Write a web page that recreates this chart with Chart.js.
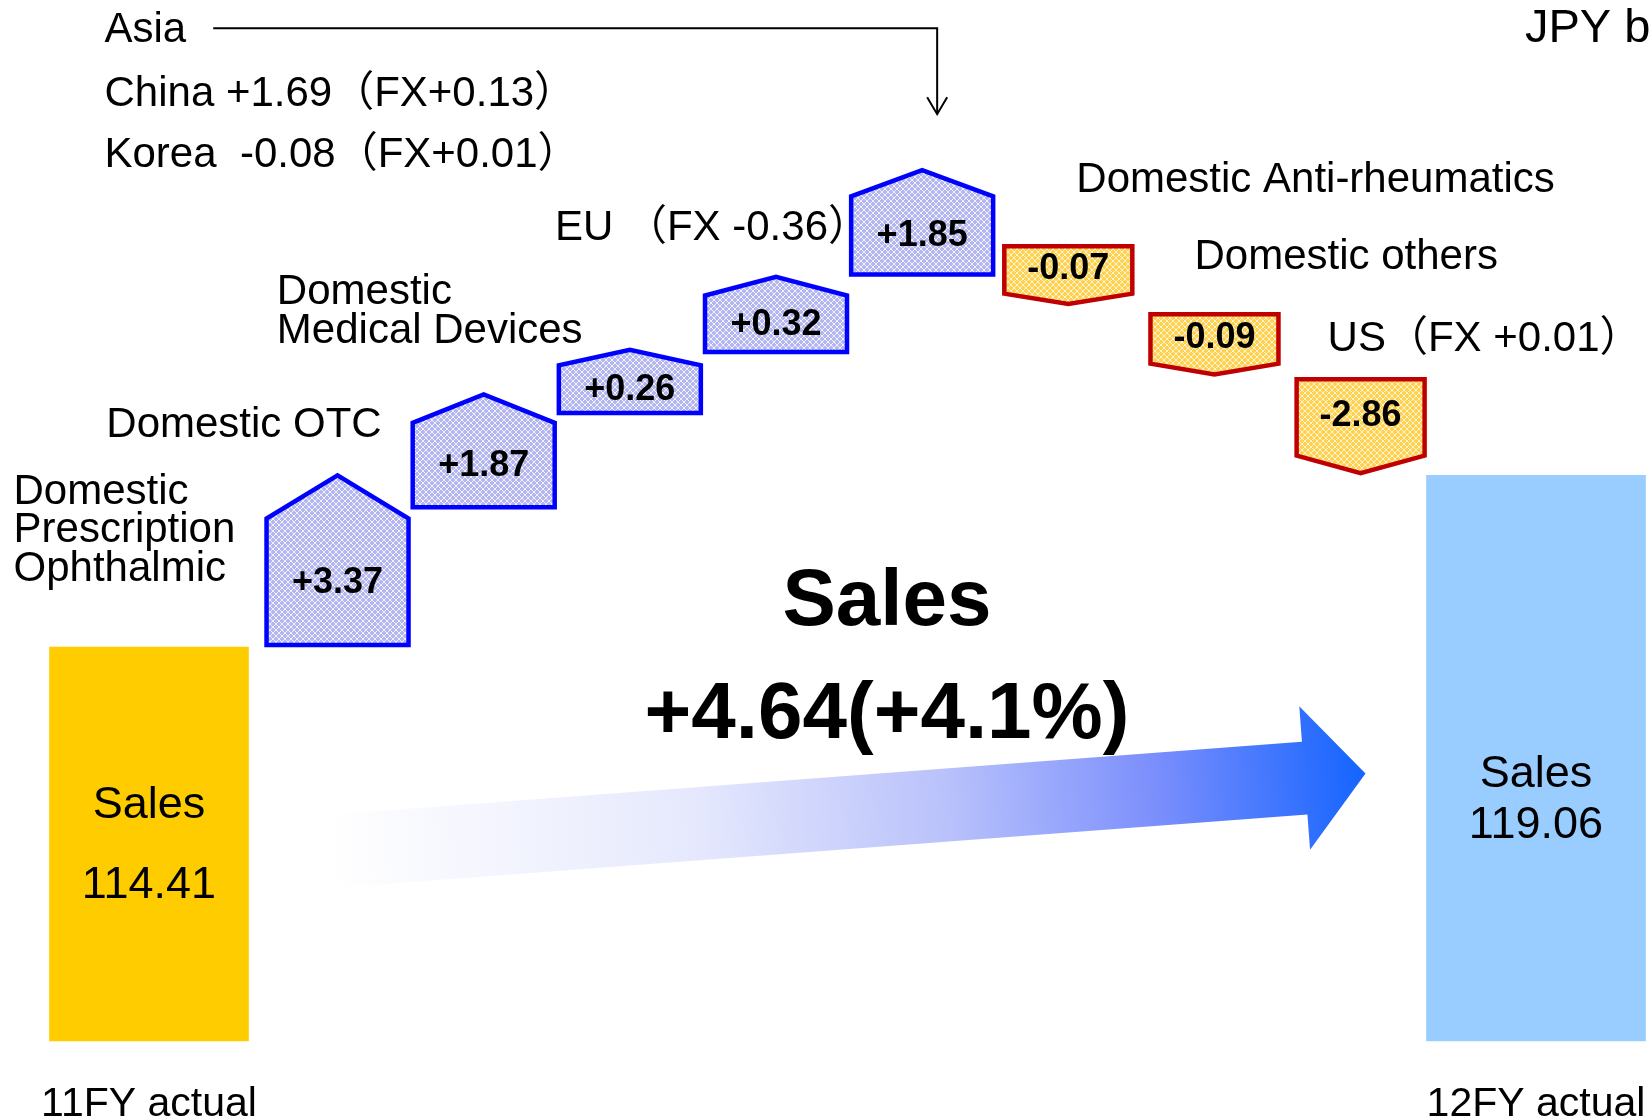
<!DOCTYPE html>
<html>
<head>
<meta charset="utf-8">
<title>Sales 11FY to 12FY</title>
<script src="https://cdn.jsdelivr.net/npm/chart.js@4.4.1/dist/chart.umd.min.js"></script>
<style>
  html, body { margin: 0; padding: 0; background: #fff; }
</style>
</head>
<body>
<canvas id="bridgeChart" width="1652" height="1117"></canvas>
<script>
// Sales, JPY bn
const endLabels = ['11FY actual', '12FY actual'];
const endSales = [114.41, 119.06];

const stepNames = [
    ['Domestic', 'Prescription', 'Ophthalmic'],
    ['Domestic OTC'],
    ['Domestic', 'Medical Devices'],
    ['EU （FX -0.36）'],
    ['Asia'],
    ['Domestic Anti-rheumatics'],
    ['Domestic others'],
    ['US（FX +0.01）']
];
const stepChanges = [3.37, 1.87, 0.26, 0.32, 1.85, -0.07, -0.09, -2.86];
// the slide is not to scale: where each box starts and where its arrow tip ends
const stepFrom = [114.41, 118.14, 120.69, 122.34, 124.44, 125.31, 123.47, 121.71];
const stepTo   = [119.11, 121.30, 122.51, 124.48, 127.37, 123.64, 121.73, 119.06];

const asiaDetail = ['China +1.69（FX+0.13）', 'Korea  -0.08（FX+0.01）'];
const totalTitle = 'Sales';
const totalChange = '+4.64(+4.1%)';
const unitLabel = 'JPY bn';

const FONT = "'Liberation Sans', Arial, 'Noto Sans CJK JP', sans-serif";
const Y_FLOOR = 103.75;   // axis is broken, bars stand on this
const Y_TOP = 131.92;

Chart.defaults.font.family = FONT;
Chart.defaults.color = '#000';

const stepPoints = stepChanges.map((v, i) => ({ x: i + 1, y: [stepFrom[i], stepTo[i]] }));
const upPoints = stepPoints.filter((p, i) => stepChanges[i] > 0);
const downPoints = stepPoints.filter((p, i) => stepChanges[i] < 0);

// where the category text sits next to its box (offsets from box centre / upper end)
const noteLayout = [
    { align: 'left', dx: -324, dy: 19, lh: 38.5 },
    { align: 'right', dx: -102, dy: 33, lh: 0 },
    { align: 'left', dx: -353, dy: -55, lh: 39 },
    { align: 'right', dx: 94, dy: -47, lh: 0 },
    null,
    { align: 'left', dx: 8, dy: -64, lh: 0 },
    { align: 'left', dx: -20, dy: -55, lh: 0 },
    { align: 'left', dx: -33, dy: -38, lh: 0 }
];

let bluePattern = null, yellowPattern = null;

function makePattern(ctx, bg, fg) {
    const c = document.createElement('canvas');
    c.width = 6; c.height = 6;
    const g = c.getContext('2d');
    g.fillStyle = bg;
    g.fillRect(0, 0, 6, 6);
    g.fillStyle = fg;
    for (let i = 0; i < 6; i++) {
        g.fillRect(i, i, 1, 1);
        g.fillRect(5 - i, i, 1, 1);
    }
    return ctx.createPattern(c, 'repeat');
}

function fmt(v) {
    return (v > 0 ? '+' : '') + v.toFixed(2);
}

function drawTrendArrow(chart) {
    const ctx = chart.ctx;
    const a = chart.getDatasetMeta(0).data[0];
    const b = chart.getDatasetMeta(1).data[1];
    const bottom = chart.chartArea.bottom;
    const x0 = a.x + a.width / 2 + 80, y0 = bottom - 189.5;
    const x1 = b.x - b.width / 2 - 61, y1 = bottom - 267.5;
    const len = Math.hypot(x1 - x0, y1 - y0);
    ctx.save();
    ctx.translate(x0, y0);
    ctx.rotate(Math.atan2(y1 - y0, x1 - x0));
    const g = ctx.createLinearGradient(0, 0, len, 0);
    g.addColorStop(0, '#ffffff');
    g.addColorStop(0.35, '#e6e9fd');
    g.addColorStop(0.6, '#b8c1fb');
    g.addColorStop(0.8, '#7a8efc');
    g.addColorStop(1, '#1464ff');
    ctx.fillStyle = g;
    ctx.beginPath();
    ctx.moveTo(0, -36.5);
    ctx.lineTo(len - 61, -36.5);
    ctx.lineTo(len - 61, -72);
    ctx.lineTo(len, 0);
    ctx.lineTo(len - 61, 72);
    ctx.lineTo(len - 61, 36.5);
    ctx.lineTo(0, 36.5);
    ctx.closePath();
    ctx.fill();
    ctx.restore();
}

function drawStepBox(ctx, el, up, change) {
    const lw = 4;
    const top = Math.min(el.y, el.base), bot = Math.max(el.y, el.base);
    const h = bot - top;
    const l = el.x - el.width / 2 + lw / 2, r = el.x + el.width / 2 - lw / 2;
    let bodyMid;
    ctx.beginPath();
    if (up) {
        const sh = top + h * 0.26;
        ctx.moveTo(l, bot - lw / 2);
        ctx.lineTo(l, sh);
        ctx.lineTo(el.x, top + lw / 2);
        ctx.lineTo(r, sh);
        ctx.lineTo(r, bot - lw / 2);
        bodyMid = (sh + bot) / 2;
    } else {
        const sh = bot - h * 0.2;
        ctx.moveTo(l, top + lw / 2);
        ctx.lineTo(r, top + lw / 2);
        ctx.lineTo(r, sh);
        ctx.lineTo(el.x, bot - lw / 2);
        ctx.lineTo(l, sh);
        bodyMid = (top + sh) / 2;
    }
    ctx.closePath();
    ctx.fillStyle = up ? bluePattern : yellowPattern;
    ctx.fill();
    ctx.lineWidth = 4.5;
    ctx.lineJoin = 'miter';
    ctx.strokeStyle = up ? '#0000ff' : '#c00000';
    ctx.stroke();

    ctx.fillStyle = '#000';
    ctx.font = 'bold 36px ' + FONT;
    ctx.textAlign = 'center';
    ctx.textBaseline = 'middle';
    ctx.fillText(fmt(change), el.x, bodyMid);
}

const bridgePlugin = {
    id: 'bridgeShapes',
    beforeDatasetsDraw(chart) {
        drawTrendArrow(chart);
    },
    afterDatasetsDraw(chart) {
        const ctx = chart.ctx;
        if (!bluePattern) {
            bluePattern = makePattern(ctx, '#b4b7ef', 'rgba(255,255,255,0.8)');
            yellowPattern = makePattern(ctx, '#ffd152', 'rgba(255,250,225,0.85)');
        }
        ctx.save();

        // step boxes, keyed by their step index
        const boxes = [];
        [2, 3].forEach(di => {
            const meta = chart.getDatasetMeta(di);
            const data = chart.data.datasets[di].data;
            meta.data.forEach((el, j) => {
                const idx = data[j].x - 1;
                boxes[idx] = el;
                drawStepBox(ctx, el, di === 2, stepChanges[idx]);
            });
        });

        // endpoint bar texts
        const endEls = [chart.getDatasetMeta(0).data[0], chart.getDatasetMeta(1).data[1]];
        const endDy = [[159, 239], [299, 350]];
        ctx.font = '45px ' + FONT;
        ctx.textAlign = 'center';
        ctx.textBaseline = 'middle';
        ctx.fillStyle = '#000';
        endEls.forEach((el, i) => {
            ctx.fillText('Sales', el.x, el.y + endDy[i][0]);
            ctx.fillText(endSales[i].toFixed(2), el.x, el.y + endDy[i][1]);
        });

        // category texts
        ctx.font = '42px ' + FONT;
        noteLayout.forEach((n, i) => {
            if (!n) return;
            const el = boxes[i];
            const ay = Math.min(el.y, el.base);
            ctx.textAlign = n.align;
            stepNames[i].forEach((line, k) => {
                ctx.fillText(line, el.x + n.dx, ay + n.dy + k * n.lh);
            });
        });

        // Asia block with its pointer
        const asiaBox = boxes[4];
        const tip = Math.min(asiaBox.y, asiaBox.base);
        const tx = endEls[0].x - endEls[0].width / 2 + 55;
        ctx.textAlign = 'left';
        ctx.fillText(stepNames[4][0], tx, tip - 138);
        asiaDetail.forEach((line, k) => ctx.fillText(line, tx, tip - 74 + k * 61));
        const ax = asiaBox.x + 15;
        const lx = tx + ctx.measureText(stepNames[4][0]).width + 27;
        const ly = tip - 140;
        ctx.strokeStyle = '#000';
        ctx.lineWidth = 2;
        ctx.lineJoin = 'miter';
        ctx.beginPath();
        ctx.moveTo(lx, ly);
        ctx.lineTo(ax, ly);
        ctx.lineTo(ax, tip - 54);
        ctx.stroke();
        ctx.beginPath();
        ctx.moveTo(ax - 10, tip - 71);
        ctx.lineTo(ax, tip - 54);
        ctx.lineTo(ax + 10, tip - 71);
        ctx.stroke();

        // unit
        ctx.font = '47px ' + FONT;
        ctx.textAlign = 'left';
        ctx.fillText(unitLabel, chart.width - 127, 29);

        // headline
        const bottom = chart.chartArea.bottom;
        ctx.font = 'bold 80px ' + FONT;
        ctx.textAlign = 'center';
        ctx.textBaseline = 'alphabetic';
        ctx.fillText(totalTitle, 887, bottom - 416);
        ctx.fillText(totalChange, 887, bottom - 303);

        ctx.restore();
    }
};

new Chart(document.getElementById('bridgeChart'), {
    type: 'bar',
    data: {
        datasets: [
            {
                label: endLabels[0],
                data: [endSales[0], null],
                xAxisID: 'xEnd',
                backgroundColor: '#FFCC00',
                barThickness: 199,
                base: Y_FLOOR
            },
            {
                label: endLabels[1],
                data: [null, endSales[1]],
                xAxisID: 'xEnd',
                backgroundColor: '#99CCFF',
                barThickness: 219,
                base: Y_FLOOR
            },
            {
                label: 'Increase',
                data: upPoints,
                xAxisID: 'xStep',
                barThickness: 146,
                backgroundColor: 'rgba(0,0,0,0)',
                borderWidth: 0
            },
            {
                label: 'Decrease',
                data: downPoints,
                xAxisID: 'xStep',
                barThickness: 132,
                backgroundColor: 'rgba(0,0,0,0)',
                borderWidth: 0
            }
        ]
    },
    options: {
        responsive: false,
        animation: false,
        layout: { padding: { left: 149, right: 116, top: 0, bottom: 0 } },
        datasets: { bar: { grouped: false, clip: false } },
        plugins: {
            legend: { display: false },
            tooltip: { enabled: false }
        },
        scales: {
            xEnd: {
                type: 'category',
                labels: endLabels,
                position: 'bottom',
                offset: false,
                grid: { display: false, drawTicks: false },
                border: { display: false },
                ticks: { font: { size: 41, lineHeight: 3.1 }, color: '#000', padding: 0, maxRotation: 0, autoSkip: false },
                afterFit: (scale) => { scale.height = 76; }
            },
            xStep: {
                type: 'linear',
                position: 'bottom',
                min: -0.29,
                max: 9.2,
                offset: false,
                display: false
            },
            y: {
                type: 'linear',
                min: Y_FLOOR,
                max: Y_TOP,
                display: false
            }
        }
    },
    plugins: [bridgePlugin]
});
</script>
</body>
</html>
